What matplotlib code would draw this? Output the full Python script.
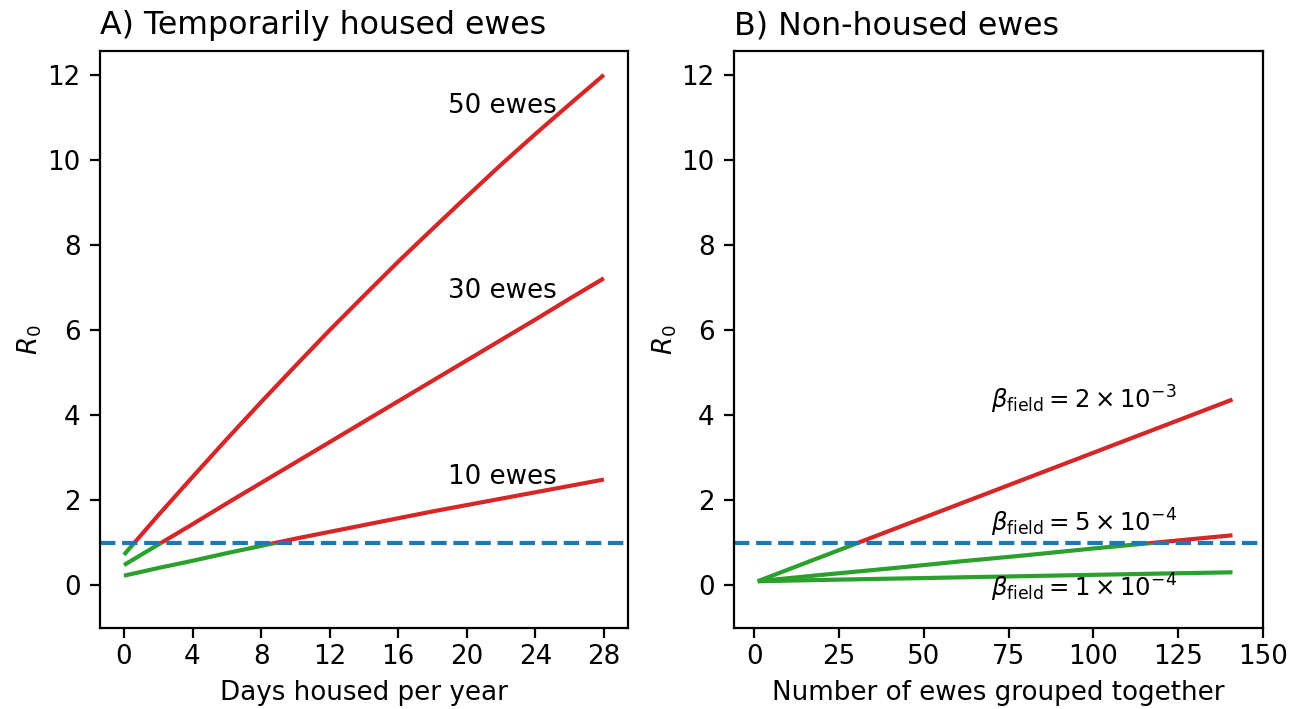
import numpy as np
import matplotlib
matplotlib.use("Agg")
import matplotlib.pyplot as plt
from matplotlib.patches import Rectangle

# ---- data ----
days = [0, 2, 4, 6, 8, 10, 12, 14, 16, 18, 20, 22, 24, 26, 28]
r0_10_ewes = [0.23, 0.41, 0.58, 0.76, 0.93, 1.10, 1.26, 1.42, 1.58, 1.74, 1.89, 2.04, 2.19, 2.34, 2.49]
r0_30_ewes = [0.48, 0.96, 1.44, 1.93, 2.41, 2.89, 3.37, 3.85, 4.33, 4.81, 5.29, 5.77, 6.25, 6.74, 7.22]
r0_50_ewes = [0.72, 1.65, 2.55, 3.44, 4.31, 5.16, 6.00, 6.81, 7.61, 8.38, 9.14, 9.89, 10.61, 11.31, 12.00]
housed_labels = ["10 ewes", "30 ewes", "50 ewes"]
housed_label_y = [2.56, 6.93, 11.28]

ewes = [1, 20, 40, 60, 80, 100, 120, 141]
r0_beta_2e3 = [0.10, 0.68, 1.29, 1.90, 2.51, 3.12, 3.73, 4.37]
r0_beta_5e4 = [0.10, 0.25, 0.40, 0.56, 0.71, 0.87, 1.02, 1.18]
r0_beta_1e4 = [0.10, 0.13, 0.16, 0.19, 0.22, 0.25, 0.28, 0.31]
field_labels = [r"$\beta_{\mathrm{field}} = 2\times10^{-3}$",
                r"$\beta_{\mathrm{field}} = 5\times10^{-4}$",
                r"$\beta_{\mathrm{field}} = 1\times10^{-4}$"]
field_label_y = [4.35, 1.46, -0.05]

threshold = 1.0
day_ticks = [0, 4, 8, 12, 16, 20, 24, 28]
ewe_ticks = [0, 25, 50, 75, 100, 125, 150]
y_ticks = [0, 2, 4, 6, 8, 10, 12]

RED = "#d62728"
GREEN = "#2ca02c"
BLUE = "#1f77b4"

plt.rcParams["font.size"] = 9.4
plt.rcParams["axes.titlesize"] = 11.4
plt.rcParams["xtick.major.pad"] = 2.2
fig = plt.figure(figsize=(6.515, 3.545), dpi=200)
axA = fig.add_axes([0.0767, 0.1142, 0.4052, 0.8138])
axB = fig.add_axes([0.5633, 0.1142, 0.4060, 0.8138])


def split_line(ax, x, y):
    r, = ax.plot(x, y, color=RED, lw=1.5, solid_capstyle="butt")
    g, = ax.plot(x, y, color=GREEN, lw=1.5, solid_capstyle="butt")
    r.set_clip_path(Rectangle((-1e3, threshold), 2e3, 1e3, transform=ax.transData))
    g.set_clip_path(Rectangle((-1e3, -1e3), 2e3, 1e3 + threshold, transform=ax.transData))


for ys in (r0_10_ewes, r0_30_ewes, r0_50_ewes):
    split_line(axA, days, ys)
axA.axhline(threshold, color=BLUE, lw=1.5, ls="--")
for lab, yy in zip(housed_labels, housed_label_y):
    axA.text(25.25, yy, lab, ha="right", va="center")
axA.set_xlim(-1.4, 29.4)
axA.set_ylim(-1, 12.56)
axA.set_xticks(day_ticks)
axA.set_yticks(y_ticks)
axA.set_xlabel("Days housed per year", labelpad=3.5)
axA.set_ylabel(r"$R_0$", labelpad=1)
axA.set_title("A) Temporarily housed ewes", loc="left")

for ys in (r0_beta_2e3, r0_beta_5e4, r0_beta_1e4):
    split_line(axB, ewes, ys)
axB.axhline(threshold, color=BLUE, lw=1.5, ls="--")
for lab, yy in zip(field_labels, field_label_y):
    axB.text(124.5, yy, lab, ha="right", va="center", fontsize=8.8)
axB.set_xlim(-6, 150)
axB.set_ylim(-1, 12.56)
axB.set_xticks(ewe_ticks)
axB.set_yticks(y_ticks)
axB.set_xlabel("Number of ewes grouped together", labelpad=3.5)
axB.set_ylabel(r"$R_0$", labelpad=1)
axB.set_title("B) Non-housed ewes", loc="left")

fig.savefig("out.png", dpi=200)
